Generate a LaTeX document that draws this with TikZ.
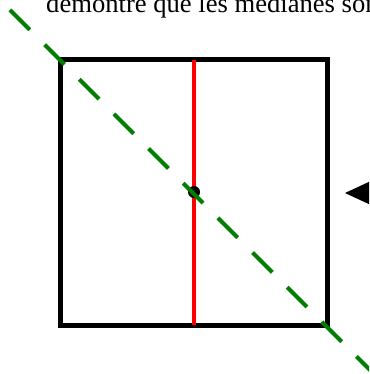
\documentclass[tikz,border=0pt]{standalone}
\usepackage{fontspec}
\setmainfont{Liberation Serif}
\usetikzlibrary{calc}
\definecolor{medRed}{HTML}{FF0000}
\definecolor{diagGreen}{HTML}{008000}

\begin{document}
\begin{tikzpicture}[
  x=1pt, y=-1pt,
  side/.style={line width=5pt, black},
  median/.style={line width=4pt, medRed},
  diagline/.style={line width=4pt, diagGreen, dash pattern=on 28pt off 21pt},
  centre/.style={circle, fill=black, inner sep=0pt, minimum size=12pt},
  caption/.style={anchor=base west, inner sep=0pt, font=\fontsize{26.6}{30}\selectfont},
]

% Frame
\useasboundingbox (0,0) rectangle (369,374);
\clip (0,0) rectangle (369,374);

% Caption (cut by the frame)
\node[caption] (title) at (46,13) {démontre que les médianes sont};

% Square
\coordinate (A) at (60,60);
\coordinate (B) at (327,60);
\coordinate (C) at (327,325);
\coordinate (D) at (60,325);
\draw[side] (A) -- (B) -- (C) -- (D) -- cycle;

% Median
\coordinate (midTop) at ($(A)!0.5!(B)$);
\coordinate (midBot) at ($(D)!0.5!(C)$);
\draw[median] (midTop) -- (midBot);

% Centre
\node[centre] (O) at (194,192) {};

% Diagonal
\coordinate (diagStart) at (10,10);
\coordinate (diagEnd) at (385,385);
\draw[diagline] (diagStart) -- (diagEnd);

% Marker on the right
\coordinate (tip) at (345,193);
\fill[black] (tip) -- ++(28,-13) -- ++(0,26) -- cycle;

\end{tikzpicture}
\end{document}
